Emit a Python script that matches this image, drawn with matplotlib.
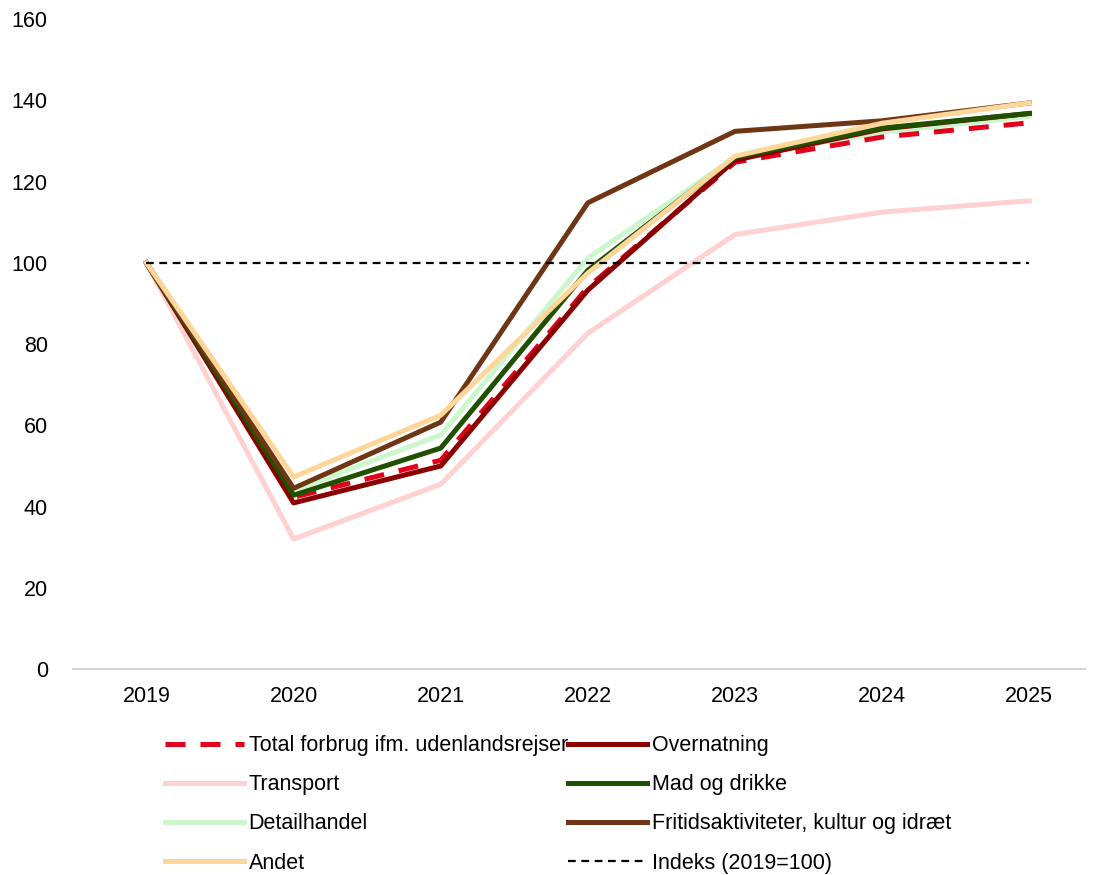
import matplotlib.pyplot as plt

plt.rcParams['font.family'] = ['Liberation Sans', 'DejaVu Sans']

years = [2019, 2020, 2021, 2022, 2023, 2024, 2025]

total = [100, 42.3, 51.4, 94.0, 124.8, 131.0, 134.5]
overnatning = [100, 40.9, 50.0, 93.3, 125.3, 133.0, 136.8]
transport = [100, 32.0, 45.5, 82.7, 107.0, 112.5, 115.3]
mad = [100, 42.8, 54.4, 98.2, 126.0, 133.2, 136.8]
detail = [100, 44.0, 57.6, 101.2, 126.0, 132.2, 136.1]
fritid = [100, 44.5, 60.8, 114.8, 132.4, 135.0, 139.4]
andet = [100, 47.3, 62.5, 97.5, 126.3, 134.4, 139.4]
indeks = [100] * len(years)

y_ticks = [0, 20, 40, 60, 80, 100, 120, 140, 160]

fig = plt.figure(figsize=(11.04, 8.75), dpi=100)
ax = fig.add_axes([0.066, 0.2354, 0.917, 0.7426])

lw = 3.6
# draw order roughly as in the original
ax.plot(years, transport, color='#FFD1D1', lw=lw, label='Transport', zorder=2)
ax.plot(years, detail, color='#CCF7CC', lw=lw, label='Detailhandel', zorder=3)
ax.plot(years, total, color='#E3001B', lw=lw, dashes=(4, 3),
        label='Total forbrug ifm. udenlandsrejser', zorder=4)
ax.plot(years, overnatning, color='#8B0000', lw=lw, label='Overnatning', zorder=5)
ax.plot(years, mad, color='#1E5000', lw=lw, label='Mad og drikke', zorder=6)
ax.plot(years, fritid, color='#6E3614', lw=lw, label='Fritidsaktiviteter, kultur og idræt', zorder=7)
ax.plot(years, andet, color='#FFD699', lw=lw, label='Andet', zorder=8)
ax.plot(years, indeks, color='black', lw=1.6, dashes=(3.5, 2.5),
        label='Indeks (2019=100)', zorder=9)

ax.set_xlim(2018.5, 2025.38)
ax.set_ylim(0, 160)
ax.set_yticks(y_ticks)
ax.set_xticks(years)
ax.tick_params(axis='both', length=0, labelsize=15.5, colors='black')
ax.tick_params(axis='x', pad=12)
ax.tick_params(axis='y', pad=18)

for side in ['top', 'right', 'left']:
    ax.spines[side].set_visible(False)
ax.spines['bottom'].set_color('#C8C8C8')
ax.spines['bottom'].set_linewidth(1.2)

# legend in the order of the original (two columns, row-wise)
handles, labels = ax.get_legend_handles_labels()
order = ['Total forbrug ifm. udenlandsrejser', 'Transport', 'Detailhandel', 'Andet',
         'Overnatning', 'Mad og drikke', 'Fritidsaktiviteter, kultur og idræt',
         'Indeks (2019=100)']
lookup = dict(zip(labels, handles))
fig.legend([lookup[k] for k in order], order, ncol=2, frameon=False,
           loc='upper left', bbox_to_anchor=(0.1413, 0.1695), fontsize=15.5,
           handlelength=3.7, handletextpad=0.2, columnspacing=0.0,
           labelspacing=0.84, borderaxespad=0)

fig.savefig('out.png', dpi=100)
